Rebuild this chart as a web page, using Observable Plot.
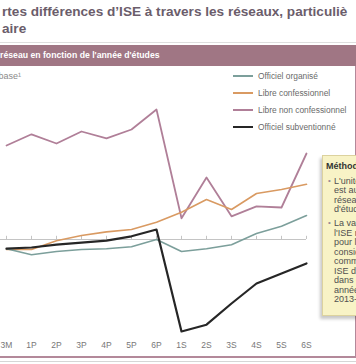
<!DOCTYPE html>
<html><head><meta charset="utf-8">
<script src="https://cdn.jsdelivr.net/npm/d3@7"></script>
<script src="https://cdn.jsdelivr.net/npm/@observablehq/plot@0.6"></script>
<style>
html,body{margin:0;padding:0;background:#fff;}
#page{position:relative;width:356px;height:364px;overflow:hidden;font-family:"Liberation Sans",Arial,sans-serif;}
.title{position:absolute;left:2px;white-space:nowrap;font-weight:bold;font-size:13.6px;line-height:16px;color:#6b5d6b;}
#band{position:absolute;left:0;top:45px;width:356px;height:21px;background:#a07684;color:#fff;font-weight:bold;font-size:8.7px;line-height:21px;white-space:nowrap;}
#base{position:absolute;left:-1.5px;top:71px;font-size:9px;color:#8a8a8a;white-space:nowrap;}
#chart{position:absolute;left:0;top:66px;}
.leg{position:absolute;left:233px;height:12px;white-space:nowrap;font-size:8.4px;color:#6a6a6a;}
.leg span.sw{position:absolute;left:0;top:5px;width:20px;height:2px;}
.leg span.tx{position:absolute;left:25px;top:0;line-height:12px;}
#frameR{position:absolute;left:354.5px;top:66px;width:1.2px;height:291px;background:#b3899a;}
#frameB{position:absolute;left:0;top:356px;width:356px;height:1.5px;background:#b3899a;}
#frameB2{position:absolute;left:0;top:360.5px;width:356px;height:1px;background:#d6d6d6;}
#note{position:absolute;left:322px;top:155px;width:60px;height:159px;background:#f8f3c6;border:1px solid #dcd29e;box-shadow:-2px 3px 3px rgba(0,0,0,0.22);}
.nl{position:absolute;white-space:nowrap;font-size:9px;line-height:10px;color:#505050;}
.bul{position:absolute;font-size:8px;line-height:10px;color:#9a8a96;}
</style></head><body>
<div id="page">
  <div class="title" style="top:4px">rtes différences d’ISE à travers les réseaux, particuliè</div>
  <div class="title" style="top:21px">aire</div>
  <div style="position:absolute;left:0;top:42px;width:356px;height:1px;background:#dedede"></div>
  <div id="band">réseau en fonction de l'année d'études</div>
  <div id="base">base¹</div>
  <div id="chart"></div>
  <div id="legend"></div>
  <div id="frameR"></div>
  <div id="frameB"></div>
  <div id="frameB2"></div>
  <div id="note"></div>
</div>
<script>
const categories = ["3M","1P","2P","3P","4P","5P","6P","1S","2S","3S","4S","5S","6S"];
const seriesNames = ["Officiel organisé","Libre confessionnel","Libre non confessionnel","Officiel subventionné"];
const seriesColors = ["#7c9f9b","#d99a62","#b07f98","#262626"];
const officielOrganise      = [-0.23,-0.38,-0.30,-0.25,-0.23,-0.18, 0.00,-0.30,-0.23,-0.13, 0.15, 0.33, 0.60];
const libreConfessionnel    = [-0.25,-0.25,-0.03, 0.10, 0.19, 0.25, 0.43, 0.68, 1.00, 0.75, 1.15, 1.25, 1.38];
const libreNonConfessionnel = [ 2.35, 2.63, 2.40, 2.70, 2.53, 2.75, 3.25, 0.53, 1.55, 0.58, 0.83, 0.80, 2.15];
const officielSubventionne  = [-0.23,-0.20,-0.13,-0.08,-0.03, 0.08, 0.25,-2.30,-2.13,-1.60,-1.10,-0.85,-0.60];
const noteTitle = "Méthodologie";
const noteLines1 = ["L'unité d'analyse","est au niveau du","réseau et de l'année","d'études."];
const noteLines2 = ["La valeur de","l'ISE retenue","pour les élèves","considérés","comme ayant un","ISE donné","dans cette","année scolaire","2013-2014."];

const seriesValues = [officielOrganise, libreConfessionnel, libreNonConfessionnel, officielSubventionne];
const rows = [];
seriesNames.forEach((s, i) => categories.forEach((c, j) => rows.push({serie: s, annee: c, valeur: seriesValues[i][j]})));

const drawOrder = [2, 1, 0, 3];
const widths = [1.6, 1.6, 1.8, 2.2];

const chart = Plot.plot({
  width: 356, height: 291,
  marginLeft: 0, marginRight: 50, marginTop: 0, marginBottom: 19,
  x: {type: "point", domain: categories, range: [6, 306], padding: 0, label: null},
  y: {domain: [-2.5, 3.5], range: [273, 33], axis: null},
  style: {fontFamily: "'Liberation Sans', Arial, sans-serif", fontSize: "8.5px", color: "#777", background: "transparent"},
  marks: [
    Plot.ruleY([0], {stroke: "#c4c4c4", strokeWidth: 1}),
    Plot.ruleX(categories, {x: d => d, y1: 0, y2: 0.08, stroke: "#c4c4c4"}),
    Plot.axisX({anchor: "bottom", tickSize: 0, tickPadding: 3, label: null}),
    ...drawOrder.map(i => Plot.line(rows.filter(r => r.serie === seriesNames[i]), {
      x: "annee", y: "valeur", stroke: seriesColors[i], strokeWidth: widths[i], curve: "linear"
    }))
  ]
});
document.getElementById("chart").appendChild(chart);

const legend = document.getElementById("legend");
seriesNames.forEach((s, i) => {
  const d = document.createElement("div");
  d.className = "leg";
  d.style.top = (70 + i * 17) + "px";
  d.innerHTML = `<span class="sw" style="background:${seriesColors[i]}"></span><span class="tx">${s}</span>`;
  legend.appendChild(d);
});

const note = document.getElementById("note");
function addLine(text, top, left, cls, extra) {
  const d = document.createElement("div");
  d.className = cls; d.textContent = text;
  d.style.top = top + "px"; d.style.left = left + "px";
  if (extra) Object.assign(d.style, extra);
  note.appendChild(d);
}
addLine(noteTitle, 5, 3, "nl", {fontWeight: "bold", color: "#333"});
noteLines1.forEach((t, k) => {
  if (k === 0) addLine("•", 20, 5, "bul");
  addLine(t, 20 + k * 9.3, 11, "nl");
});
noteLines2.forEach((t, k) => {
  if (k === 0) addLine("•", 62, 5, "bul");
  addLine(t, 62 + k * 9.5, 11, "nl");
});
</script>
</body></html>
